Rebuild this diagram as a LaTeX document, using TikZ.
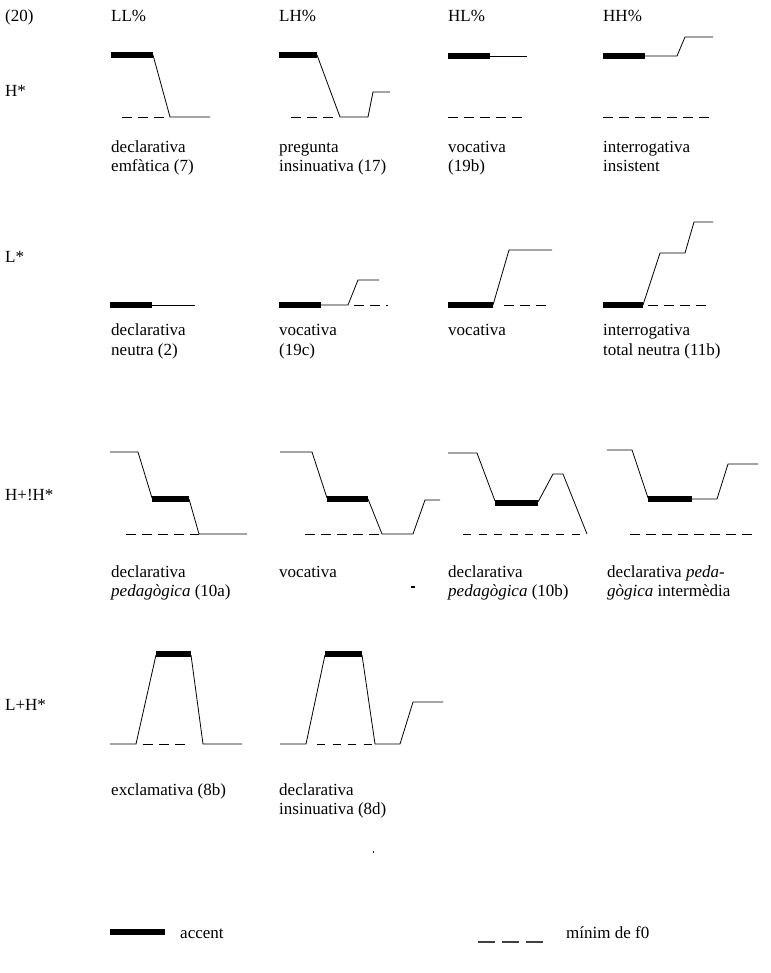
\documentclass[tikz,border=0pt]{standalone}
\usepackage{fontspec}
\setmainfont{Liberation Serif}
\tikzset{
  contour/.style={line width=0.8pt},
  accentbar/.style={line width=5.5pt},
  minline/.style={line width=0.8pt, dash pattern=on 10pt off 6pt},
  minshort/.style={line width=0.8pt, dash pattern=on 8pt off 7.5pt},
  lbl/.style={anchor=base west, inner sep=0pt, font=\fontsize{17}{20}\selectfont},
}
\begin{document}
\begin{tikzpicture}[x=1pt,y=-1pt]
\useasboundingbox (0,0) rectangle (770,973);
\fill[white] (0,0) rectangle (770,973);
% headers
\node[lbl] (h0) at (5,22) {(20)};
\node[lbl] (h1) at (111,22) {LL\%};
\node[lbl] (h2) at (279,22) {LH\%};
\node[lbl] (h3) at (448,22) {HL\%};
\node[lbl] (h4) at (603,22) {HH\%};
% row labels
\node[lbl] (r1) at (5,97) {H*};
\node[lbl] (r2) at (5,262) {L*};
\node[lbl] (r3) at (5,500) {H+!H*};
\node[lbl] (r4) at (5,710) {L+H*};

% ===== Row 1: H* =====
% LL%
\draw[minline] (122,117) -- (165,117);
\draw[contour] (153,55) -- (170,117) -- (210,117);
\draw[accentbar] (111,55) -- (153,55);
\node[lbl] (a1) at (111,153) {declarativa};
\node[lbl] (a2) at (111,172) {emfàtica (7)};
% LH%
\draw[minline] (291,117) -- (333,117);
\draw[contour] (317,55) -- (340,117) -- (368,117) -- (373,92) -- (390,92);
\draw[accentbar] (279,55) -- (317,55);
\node[lbl] (b1) at (279,153) {pregunta};
\node[lbl] (b2) at (279,172) {insinuativa (17)};
% HL%
\draw[minline] (448,117) -- (525,117);
\draw[contour] (490,56) -- (527,56);
\draw[accentbar] (448,56) -- (490,56);
\node[lbl] (c1) at (448,153) {vocativa};
\node[lbl] (c2) at (448,172) {(19b)};
% HH%
\draw[minline] (603,117) -- (715,117);
\draw[contour] (645,56) -- (677,56) -- (685,37) -- (713,37);
\draw[accentbar] (603,56) -- (645,56);
\node[lbl] (d1) at (603,153) {interrogativa};
\node[lbl] (d2) at (603,172) {insistent};

% ===== Row 2: L* =====
% LL%
\draw[contour] (152,305) -- (195,305);
\draw[accentbar] (110,305) -- (152,305);
\node[lbl] (e1) at (111,335) {declarativa};
\node[lbl] (e2) at (111,355) {neutra (2)};
% LH%
\draw[minline] (354,305) -- (388,305);
\draw[contour] (321,305) -- (348,305) -- (358,280) -- (379,280);
\draw[accentbar] (279,305) -- (321,305);
\node[lbl] (f1) at (279,335) {vocativa};
\node[lbl] (f2) at (279,355) {(19c)};
% HL%
\draw[minline] (504,305) -- (548,305);
\draw[contour] (493,305) -- (509,250) -- (552,250);
\draw[accentbar] (448,305) -- (493,305);
\node[lbl] (g1) at (448,335) {vocativa};
% HH%
\draw[minline] (648,305) -- (706,305);
\draw[contour] (643,305) -- (660,253) -- (685,253) -- (694,222) -- (713,222);
\draw[accentbar] (603,305) -- (643,305);
\node[lbl] (k1) at (603,335) {interrogativa};
\node[lbl] (k2) at (603,355) {total neutra (11b)};

% ===== Row 3: H+!H* =====
% LL%
\draw[minline] (126,534) -- (199,534);
\draw[contour] (110,452) -- (138,452) -- (152,498) (189,499) -- (199,534) -- (247,534);
\draw[accentbar] (152,499) -- (189,499);
\node[lbl] (m1) at (111,577) {declarativa};
\node[lbl] (m2) at (111,596) {\textit{pedagògica} (10a)};
% LH%
\draw[minline] (305,534) -- (382,534);
\draw[contour] (280,452) -- (312,452) -- (327,498) (368,499) -- (382,534) -- (413,534) -- (425,500) -- (440,500);
\draw[accentbar] (327,499) -- (368,499);
\node[lbl] (n1) at (279,577) {vocativa};
% HL%
\draw[minshort] (463,534) -- (586,534);
\draw[contour] (448,453) -- (477,453) -- (495,501) (538,502) -- (553,474) -- (563,474) -- (587,534);
\draw[accentbar] (495,503) -- (538,503);
\node[lbl] (o1) at (448,577) {declarativa};
\node[lbl] (o2) at (448,596) {\textit{pedagògica} (10b)};
% HH%
\draw[minline] (630,534) -- (755,534);
\draw[contour] (607,450) -- (632,450) -- (648,498) (692,499) -- (717,499) -- (728,464) -- (758,464);
\draw[accentbar] (648,499) -- (692,499);
\node[lbl] (q1) at (607,577) {declarativa \textit{peda-}};
\node[lbl] (q2) at (607,596) {\textit{gògica} intermèdia};
\fill (411,586) rectangle (415,587.5);

% ===== Row 4: L+H* =====
% LL%
\draw[minline] (143,744) -- (188,744);
\draw[contour] (110,744) -- (136,744) -- (156,655) (191,655) -- (203,744) -- (242,744);
\draw[accentbar] (156,654) -- (191,654);
\node[lbl] (s1) at (111,795) {exclamativa (8b)};
% LH%
\draw[minshort] (317,744) -- (372,744);
\draw[contour] (280,744) -- (306,744) -- (325,655) (362,655) -- (375,744) -- (400,744) -- (413,702) -- (443,702);
\draw[accentbar] (325,654) -- (362,654);
\node[lbl] (t1) at (279,795) {declarativa};
\node[lbl] (t2) at (279,814) {insinuativa (8d)};
\fill (373.5,852) circle (0.9);

% ===== Legend =====
\draw[accentbar] (110,932) -- (165,932);
\node[lbl] (l1) at (180,938) {accent};
\draw[line width=1.6pt, dash pattern=on 17pt off 7pt, black!75] (478,942) -- (545,942);
\node[lbl] (l2) at (566,938) {mínim de f0};
\end{tikzpicture}
\end{document}
